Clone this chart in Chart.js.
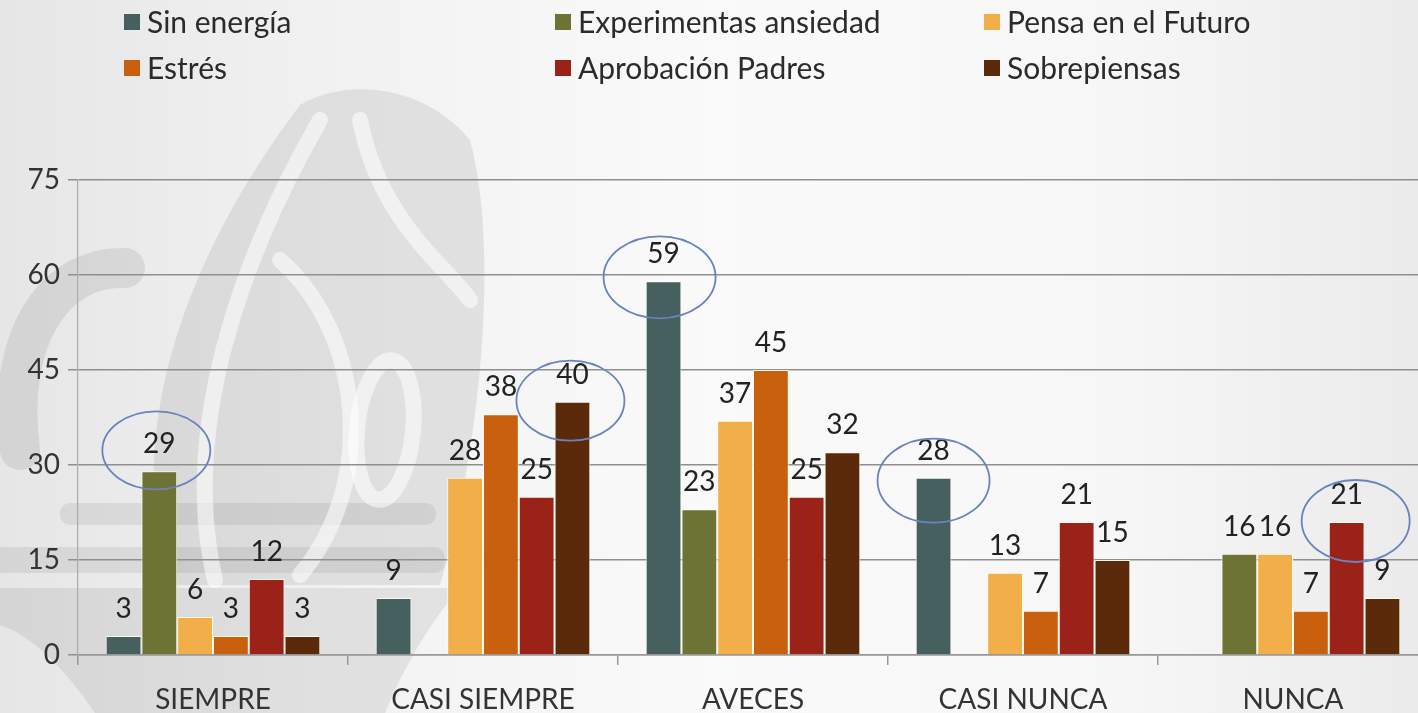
<!DOCTYPE html>
<html>
<head>
<meta charset="utf-8">
<script src="https://cdn.jsdelivr.net/npm/chart.js@4.4.0/dist/chart.umd.min.js"></script>
<style>
html, body { margin: 0; padding: 0; width: 1418px; height: 713px; overflow: hidden; }
body { background: linear-gradient(90deg, #e6e6e6 0%, #f1f1f1 22%, #fafafa 50%, #f7f7f7 78%, #ebebeb 100%); }
#wrap { position: absolute; left: 0; top: 0; width: 1440px; height: 713px; }
</style>
</head>
<body>
<div id="wrap"><canvas id="chart"></canvas></div>
<script>
const categories = ["SIEMPRE", "CASI SIEMPRE", "AVECES", "CASI NUNCA", "NUNCA"];
const seriesNames = ["Sin energía", "Experimentas ansiedad", "Pensa en el Futuro", "Estrés", "Aprobación Padres", "Sobrepiensas"];
const sinEnergia   = [3, 9, 59, 28, null];
const ansiedad     = [29, null, 23, null, 16];
const futuro       = [6, 28, 37, 13, 16];
const estres       = [3, 38, 45, 7, 7];
const aprobacion   = [12, 25, 25, 21, 21];
const sobrepiensas = [3, 40, 32, 15, 9];
const yTicks = [0, 15, 30, 45, 60, 75];
// values circled in blue: [series, category]
const circled = [[1, 0], [5, 1], [0, 2], [0, 3], [4, 4]];

const colors = ["#46605f", "#6c7334", "#f2ae49", "#c8600d", "#9a2218", "#5b2a0a"];
const ringShape = [
    { dx: -3, dy: -21, rx: 54, ry: 39 },
    { dx: -2, dy: -1, rx: 54, ry: 40 },
    { dx: -4, dy: -4, rx: 56, ry: 41 },
    { dx: 0, dy: 3, rx: 56, ry: 42 },
    { dx: 9, dy: -1, rx: 54, ry: 41 }
];
const FONT = "Lato, 'Open Sans', sans-serif";

const values = [sinEnergia, ansiedad, futuro, estres, aprobacion, sobrepiensas];

// faint logo behind the plot
const watermark = {
    id: "watermark",
    beforeDraw(chart) {
        const ctx = chart.ctx;
        ctx.save();
        ctx.fillStyle = "rgba(0,0,0,0.07)";
        // bands
        ctx.beginPath(); ctx.roundRect(60, 503, 376, 22, 10); ctx.fill();
        ctx.beginPath(); ctx.roundRect(-10, 547, 455, 26, 10); ctx.fill();
        // bowl
        ctx.beginPath();
        ctx.moveTo(0, 588); ctx.lineTo(460, 588);
        ctx.quadraticCurveTo(415, 640, 385, 713);
        ctx.lineTo(95, 713);
        ctx.quadraticCurveTo(45, 640, 0, 625);
        ctx.closePath(); ctx.fill();
        // flame mass
        ctx.fillStyle = "rgba(0,0,0,0.08)";
        ctx.beginPath();
        ctx.moveTo(170, 585);
        ctx.bezierCurveTo(120, 430, 190, 250, 300, 105);
        ctx.bezierCurveTo(340, 80, 420, 80, 470, 140);
        ctx.bezierCurveTo(500, 250, 480, 450, 440, 585);
        ctx.closePath(); ctx.fill();
        // left curl
        ctx.strokeStyle = "rgba(0,0,0,0.08)";
        ctx.lineCap = "round";
        ctx.lineWidth = 40;
        ctx.beginPath(); ctx.moveTo(20, 450); ctx.bezierCurveTo(5, 330, 60, 265, 125, 268); ctx.stroke();
        // light inner swirls
        ctx.strokeStyle = "rgba(255,255,255,0.55)";
        ctx.lineWidth = 16;
        ctx.beginPath(); ctx.moveTo(215, 580); ctx.bezierCurveTo(180, 430, 240, 260, 320, 120); ctx.stroke();
        ctx.beginPath(); ctx.moveTo(300, 575); ctx.bezierCurveTo(380, 480, 360, 330, 280, 260); ctx.stroke();
        ctx.beginPath(); ctx.moveTo(360, 120); ctx.bezierCurveTo(380, 220, 440, 260, 470, 300); ctx.stroke();
        ctx.beginPath(); ctx.ellipse(385, 430, 28, 70, 0.1, 0, Math.PI * 2); ctx.stroke();
        ctx.restore();
    }
};

const legendGrid = {
    id: "legendGrid",
    afterDraw(chart) {
        const ctx = chart.ctx;
        const cols = [124, 555, 984];
        const rows = [22, 68];
        ctx.save();
        ctx.font = "30px " + FONT;
        ctx.textBaseline = "middle";
        chart.data.datasets.forEach((ds, i) => {
            const x = cols[i % 3], y = rows[Math.floor(i / 3)];
            ctx.fillStyle = ds.backgroundColor;
            ctx.fillRect(x, y - 8, 16, 16);
            ctx.fillStyle = "#2b2b2b";
            ctx.fillText(ds.label, x + 23, y + 1);
        });
        ctx.restore();
    }
};

const barLabels = {
    id: "barLabels",
    afterDatasetsDraw(chart) {
        const ctx = chart.ctx;
        ctx.save();
        ctx.font = "28px " + FONT;
        ctx.fillStyle = "#222";
        ctx.textAlign = "center";
        ctx.textBaseline = "alphabetic";
        chart.data.datasets.forEach((ds, i) => {
            chart.getDatasetMeta(i).data.forEach((el, j) => {
                const v = ds.data[j];
                if (v === null) return;
                ctx.fillText(String(v), el.x, el.y - 18);
            });
        });
        ctx.strokeStyle = "#6983bd";
        ctx.lineWidth = 1.8;
        circled.forEach(([s, c], k) => {
            const el = chart.getDatasetMeta(s).data[c];
            const r = ringShape[k];
            ctx.beginPath();
            ctx.ellipse(el.x + r.dx, el.y + r.dy, r.rx, r.ry, 0, 0, Math.PI * 2);
            ctx.stroke();
        });
        ctx.restore();
    }
};

const ctx = document.getElementById("chart").getContext("2d");
new Chart(ctx, {
    type: "bar",
    data: {
        labels: categories,
        datasets: seriesNames.map((name, i) => ({
            label: name,
            data: values[i],
            backgroundColor: colors[i],
            borderColor: "rgba(255,252,235,0.9)",
            borderWidth: 1,
            categoryPercentage: 0.795,
            barPercentage: 1
        }))
    },
    options: {
        responsive: true,
        maintainAspectRatio: false,
        animation: false,
        layout: { padding: { top: 180, right: 12, left: 0, bottom: 0 } },
        plugins: {
            legend: { display: false },
            tooltip: { enabled: false }
        },
        scales: {
            x: {
                grid: { drawOnChartArea: false, drawTicks: true, tickLength: 10, color: "#999", lineWidth: 1.5 },
                border: { display: true, color: "#999", width: 1.5 },
                ticks: { font: { family: FONT, size: 28 }, color: "#333", padding: 18 },
                afterFit: s => { s.height = 58; }
            },
            y: {
                min: 0,
                max: 75,
                afterBuildTicks: s => { s.ticks = yTicks.map(v => ({ value: v })); },
                grid: { color: "#8f8f8f", lineWidth: 1.5, tickLength: 10 },
                border: { display: true, color: "#aaa", width: 1.2 },
                ticks: { font: { family: FONT, size: 28 }, color: "#333", padding: 8 },
                afterFit: s => { s.width = 78; }
            }
        }
    },
    plugins: [watermark, barLabels, legendGrid]
});
</script>
</body>
</html>
